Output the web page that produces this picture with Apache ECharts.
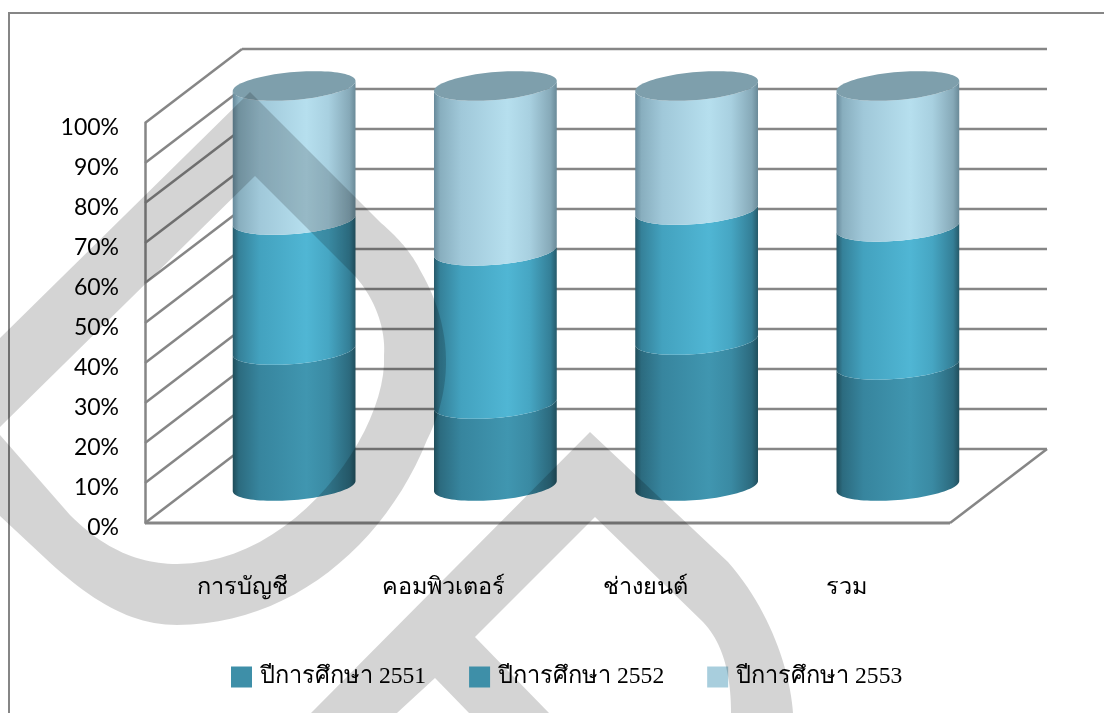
<!DOCTYPE html>
<html><head><meta charset="utf-8">
<style>html,body{margin:0;padding:0;background:#fff}#c{width:1104px;height:713px}</style>
<script src="https://cdn.jsdelivr.net/npm/echarts@6/dist/echarts.min.js"></script>
</head><body><div id="c"></div>
<script>
const categories = ['การบัญชี','คอมพิวเตอร์','ช่างยนต์','รวม'];
const seriesNames = ['ปีการศึกษา 2551','ปีการศึกษา 2552','ปีการศึกษา 2553'];
const y2551 = [34, 20.5, 36.5, 30.3];
const y2552 = [32.5, 38.3, 32.5, 34.5];
const y2553 = [33.5, 41.2, 31, 35.2];
const yTicks = [0,10,20,30,40,50,60,70,80,90,100];
const legendColors = ['#3E8FA8','#4BADCB','#A8CEDD'];
const faces = [
  ['#1f4c59','#2c6b7f','#37859e','#4096b0','#3a8aa3','#2c6a7e','#214f5d'],
  ['#27596a','#358199','#43a2bf','#50b6d4','#46a6c3','#347f97','#265a6a'],
  ['#67899a','#88aebe','#a0c8d9','#b6dfee','#a8d0e0','#86a9b8','#6a8a98']
];
const capColor = '#7e9fac';
const DX = 97, DY = -74;
const stops = [0,0.05,0.22,0.6,0.78,0.95,1];

function arc(cx, cy, rx, reverse){
  const pts = [];
  const n = 48;
  for (let k=0;k<=n;k++){
    const t = Math.PI*(reverse ? k/n : 1-k/n);   // front half of tilted ellipse
    pts.push([cx+rx*Math.cos(t), cy+14*Math.sin(t)-5*Math.cos(t)]);
  }
  return pts;
}
function cylSeries(idx, values, lower){
  return {
    name: seriesNames[idx], type:'custom', z:3,
    itemStyle:{color:legendColors[idx]},
    data: categories.map((c,i)=>[i, lower[i], lower[i]+values[i]]),
    encode:{x:0,y:[1,2]},
    renderItem(params, api){
      const a = api.coord([api.value(0), api.value(1)]);
      const b = api.coord([api.value(0), api.value(2)]);
      const rx = api.size([1,0])[0]*0.305;
      const cx = a[0]+DX/2;
      const pts = arc(cx, a[1]+DY/2, rx, false).concat(arc(cx, b[1]+DY/2, rx, true));
      const fill = new echarts.graphic.LinearGradient(0,0,1,0, stops.map((o,k)=>({offset:o,color:faces[idx][k]})));
      const children = [{type:'polygon',shape:{points:pts},style:{fill}}];
      if (idx===2){
        const cap=[]; 
        for(let k=0;k<96;k++){const t=2*Math.PI*k/96;cap.push([cx+rx*Math.cos(t), b[1]+DY/2+14*Math.sin(t)-5*Math.cos(t)]);}
        children.push({type:'polygon',shape:{points:cap},style:{fill:capColor}});
      }
      return {type:'group',children};
    }
  };
}
const wallLine = {stroke:'#868686',lineWidth:2.5};
const wallSeries = {
  type:'custom', z:1, silent:true, legendHoverLink:false,
  data: yTicks.map(v=>[0,v]),
  encode:{x:0,y:1},
  renderItem(params, api){
    const v = api.value(1);
    const p = api.coord([0,v]);
    const left = p[0]-api.size([1,0])[0]/2;
    const right = left+api.size([1,0])[0]*4;
    const ch = [
      {type:'line',shape:{x1:left,y1:p[1],x2:left+DX,y2:p[1]+DY},style:wallLine},
      {type:'line',shape:{x1:left+DX,y1:p[1]+DY,x2:right+DX,y2:p[1]+DY},style:wallLine}
    ];
    if (v===0){
      ch.push({type:'line',shape:{x1:left,y1:p[1],x2:right,y2:p[1]},style:{stroke:'#868686',lineWidth:3}});
      ch.push({type:'line',shape:{x1:right,y1:p[1],x2:right+DX,y2:p[1]+DY},style:wallLine});
    }
    return {type:'group',children:ch};
  }
};
const low2 = y2551.map((v)=>v);
const low3 = y2551.map((v,i)=>v+y2552[i]);
const zero = categories.map(()=>0);
const shade = {fill:'rgba(0,0,0,0.17)'};
// watermark outline: points, with 6-number entries being cubic curve segments
function outline(segs){
  const pts=[];
  segs.forEach(s=>{
    if(s.length===2){pts.push(s);return;}
    const p0=pts[pts.length-1];
    for(let k=1;k<=24;k++){
      const t=k/24,u=1-t;
      pts.push([u*u*u*p0[0]+3*u*u*t*s[0]+3*u*t*t*s[2]+t*t*t*s[4],
                u*u*u*p0[1]+3*u*u*t*s[1]+3*u*t*t*s[3]+t*t*t*s[5]]);
    }
  });
  return pts;
}
const markA = outline([[250,92],[0,338],[0,427],[255,176],[353,274],[372,294,386,325,384,355],[388,430,295,564,177,564],[140,564,105,550,70,515],[0,435],[0,516],[45,558],[90,600,130,625,177,625],[290,625,385,545,427,440],[452,390,455,330,420,270],[410,250,395,235,380,222]]);
const markB = outline([[590,432],[311,713],[397,713],[435,678],[469,713],[549,713],[475,637],[595,517],[703,622],[725,645,731,680,731,713],[793,713],[790,670,770,610,728,562]]);
const option = {
  animation:false,
  backgroundColor:'#fff',
  grid:{left:145,right:154,top:123,bottom:190},
  xAxis:{type:'category',data:categories,
    axisLine:{show:false},axisTick:{show:false},splitLine:{show:false},
    axisLabel:{margin:53,padding:[0,6,0,0],fontFamily:'"Liberation Serif","Noto Sans","DejaVu Sans",serif',fontSize:23.5,color:'#000'}},
  yAxis:{type:'value',min:0,max:100,interval:10,
    axisLine:{show:true,lineStyle:{color:'#868686',width:2.5}},axisTick:{show:false},splitLine:{show:false},
    axisLabel:{margin:26,formatter:'{t|{value}%}',color:'#000',
      rich:{t:{padding:[9,0,0,0],fontFamily:'Lato,Carlito,sans-serif',fontSize:23,color:'#000'}}}},
  legend:{left:231,top:665,padding:0,itemWidth:21,itemHeight:21,itemGap:43,icon:'rect',
    data:seriesNames,
    textStyle:{fontFamily:'"Liberation Serif","Noto Sans","DejaVu Sans",serif',fontSize:23.6,color:'#000',padding:[0,0,0,3]}},
  series:[wallSeries, cylSeries(0,y2551,zero), cylSeries(1,y2552,low2), cylSeries(2,y2553,low3)],
  graphic:[
    {type:'polyline',z:50,silent:true,shape:{points:[[1104,13],[9,13],[9,713]]},style:{stroke:'#868686',lineWidth:2,fill:'none'}},
    {type:'polygon',z:100,silent:true,shape:{points:markA},style:shade},
    {type:'polygon',z:100,silent:true,shape:{points:markB},style:shade}
  ]
};
echarts.init(document.getElementById('c'),null,{renderer:'canvas'}).setOption(option);
</script></body></html>
